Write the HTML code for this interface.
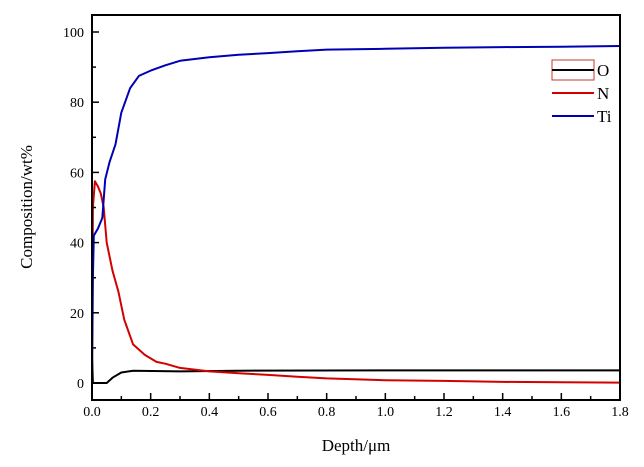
<!DOCTYPE html>
<html><head><meta charset="utf-8"><style>
html,body{margin:0;padding:0;background:#fff;}
svg{display:block;font-family:"Liberation Serif",serif;}
</style></head><body>
<svg id="chart" width="644" height="467" viewBox="0 0 644 467" xmlns="http://www.w3.org/2000/svg">
<g id="series"></g>
<rect x="92" y="15" width="528" height="385" fill="none" stroke="#000" stroke-width="2"/>
<g id="axes"></g>
<text transform="translate(32,207) rotate(-90)" text-anchor="middle" font-size="17">Composition/wt%</text>
<text x="356" y="451" text-anchor="middle" font-size="17">Depth/μm</text>
<g>
<rect x="552" y="60" width="42" height="20" fill="none" stroke="#c0392b" stroke-width="1"/>
<line x1="552" y1="70" x2="594" y2="70" stroke="#000" stroke-width="2"/>
<text x="597" y="76" font-size="17">O</text>
<line x1="552" y1="93" x2="594" y2="93" stroke="#d40000" stroke-width="2"/>
<text x="597" y="99" font-size="17">N</text>
<line x1="552" y1="116" x2="594" y2="116" stroke="#0000b4" stroke-width="2"/>
<text x="597" y="122" font-size="17">Ti</text>
</g>
</svg>
<script>
const xTicks=[0,0.2,0.4,0.6,0.8,1.0,1.2,1.4,1.6,1.8];
const xTickLabels=["0.0","0.2","0.4","0.6","0.8","1.0","1.2","1.4","1.6","1.8"];
const yTicks=[0,20,40,60,80,100];
const yTickLabels=["0","20","40","60","80","100"];
const tiDepth=[0,0.003,0.006,0.02,0.035,0.045,0.06,0.08,0.1,0.13,0.16,0.2,0.25,0.3,0.4,0.5,0.6,0.7,0.8,1.0,1.2,1.4,1.6,1.8];
const tiValues=[0,30,42,44,47,58,63,68,77,84,87.5,89,90.5,91.8,92.8,93.5,94,94.5,95,95.2,95.5,95.7,95.8,96];
const nDepth=[0,0.003,0.01,0.02,0.03,0.04,0.05,0.07,0.09,0.11,0.14,0.18,0.22,0.25,0.3,0.4,0.5,0.6,0.7,0.8,1.0,1.2,1.4,1.6,1.8];
const nValues=[5,50,57.5,56,54,50,40,32,26,18,11,8,6,5.5,4.3,3.3,2.8,2.3,1.8,1.3,0.8,0.6,0.3,0.2,0.1];
const oDepth=[0,0.003,0.05,0.07,0.1,0.14,0.3,0.5,1.0,1.8];
const oValues=[8,0,0,1.5,3,3.5,3.3,3.5,3.6,3.6];
const X=v=>92+v/1.8*528;
const Y=v=>383-v*3.51;
const NS="http://www.w3.org/2000/svg";
const axes=document.getElementById('axes');
function mk(tag,attrs,parent){const e=document.createElementNS(NS,tag);for(const k in attrs)e.setAttribute(k,attrs[k]);parent.appendChild(e);return e;}
xTicks.forEach((t,i)=>{
  const l=mk('line',{x1:X(t),x2:X(t),y1:400,y2:393,stroke:'#000','stroke-width':1.5},axes);
  
  
  if(t+0.1<=1.8){
    const m=mk('line',{x1:X(t+0.1),x2:X(t+0.1),y1:400,y2:396,stroke:'#000','stroke-width':1.5},axes);
    
    
  }
  const tx=mk('text',{x:X(t),y:416,'text-anchor':'middle','font-size':14},axes);
  tx.textContent=xTickLabels[i];
  
  
});
yTicks.forEach((t,i)=>{
  const l=mk('line',{x1:92,x2:99,y1:Y(t),y2:Y(t),stroke:'#000','stroke-width':1.5},axes);
  
  
  const m=mk('line',{x1:92,x2:96,y1:Y(t+10),y2:Y(t+10),stroke:'#000','stroke-width':1.5},axes);
  
  
  const tx=mk('text',{x:84,y:Y(t)+5,'text-anchor':'end','font-size':14},axes);
  tx.textContent=yTickLabels[i];
  
  
});
const ser=document.getElementById('series');
function line(xs,ys,color,name){
  const d=xs.map((x,i)=>(i?'L':'M')+X(x).toFixed(1)+','+Y(ys[i]).toFixed(1)).join(' ');
  const p=mk('path',{d:d,fill:'none',stroke:color,'stroke-width':2,'stroke-linejoin':'round'},ser);
  
  
}
line(oDepth,oValues,'#000','series-o');
line(nDepth,nValues,'#d40000','series-n');
line(tiDepth,tiValues,'#0000b4','series-ti');
</script>
</body></html>
